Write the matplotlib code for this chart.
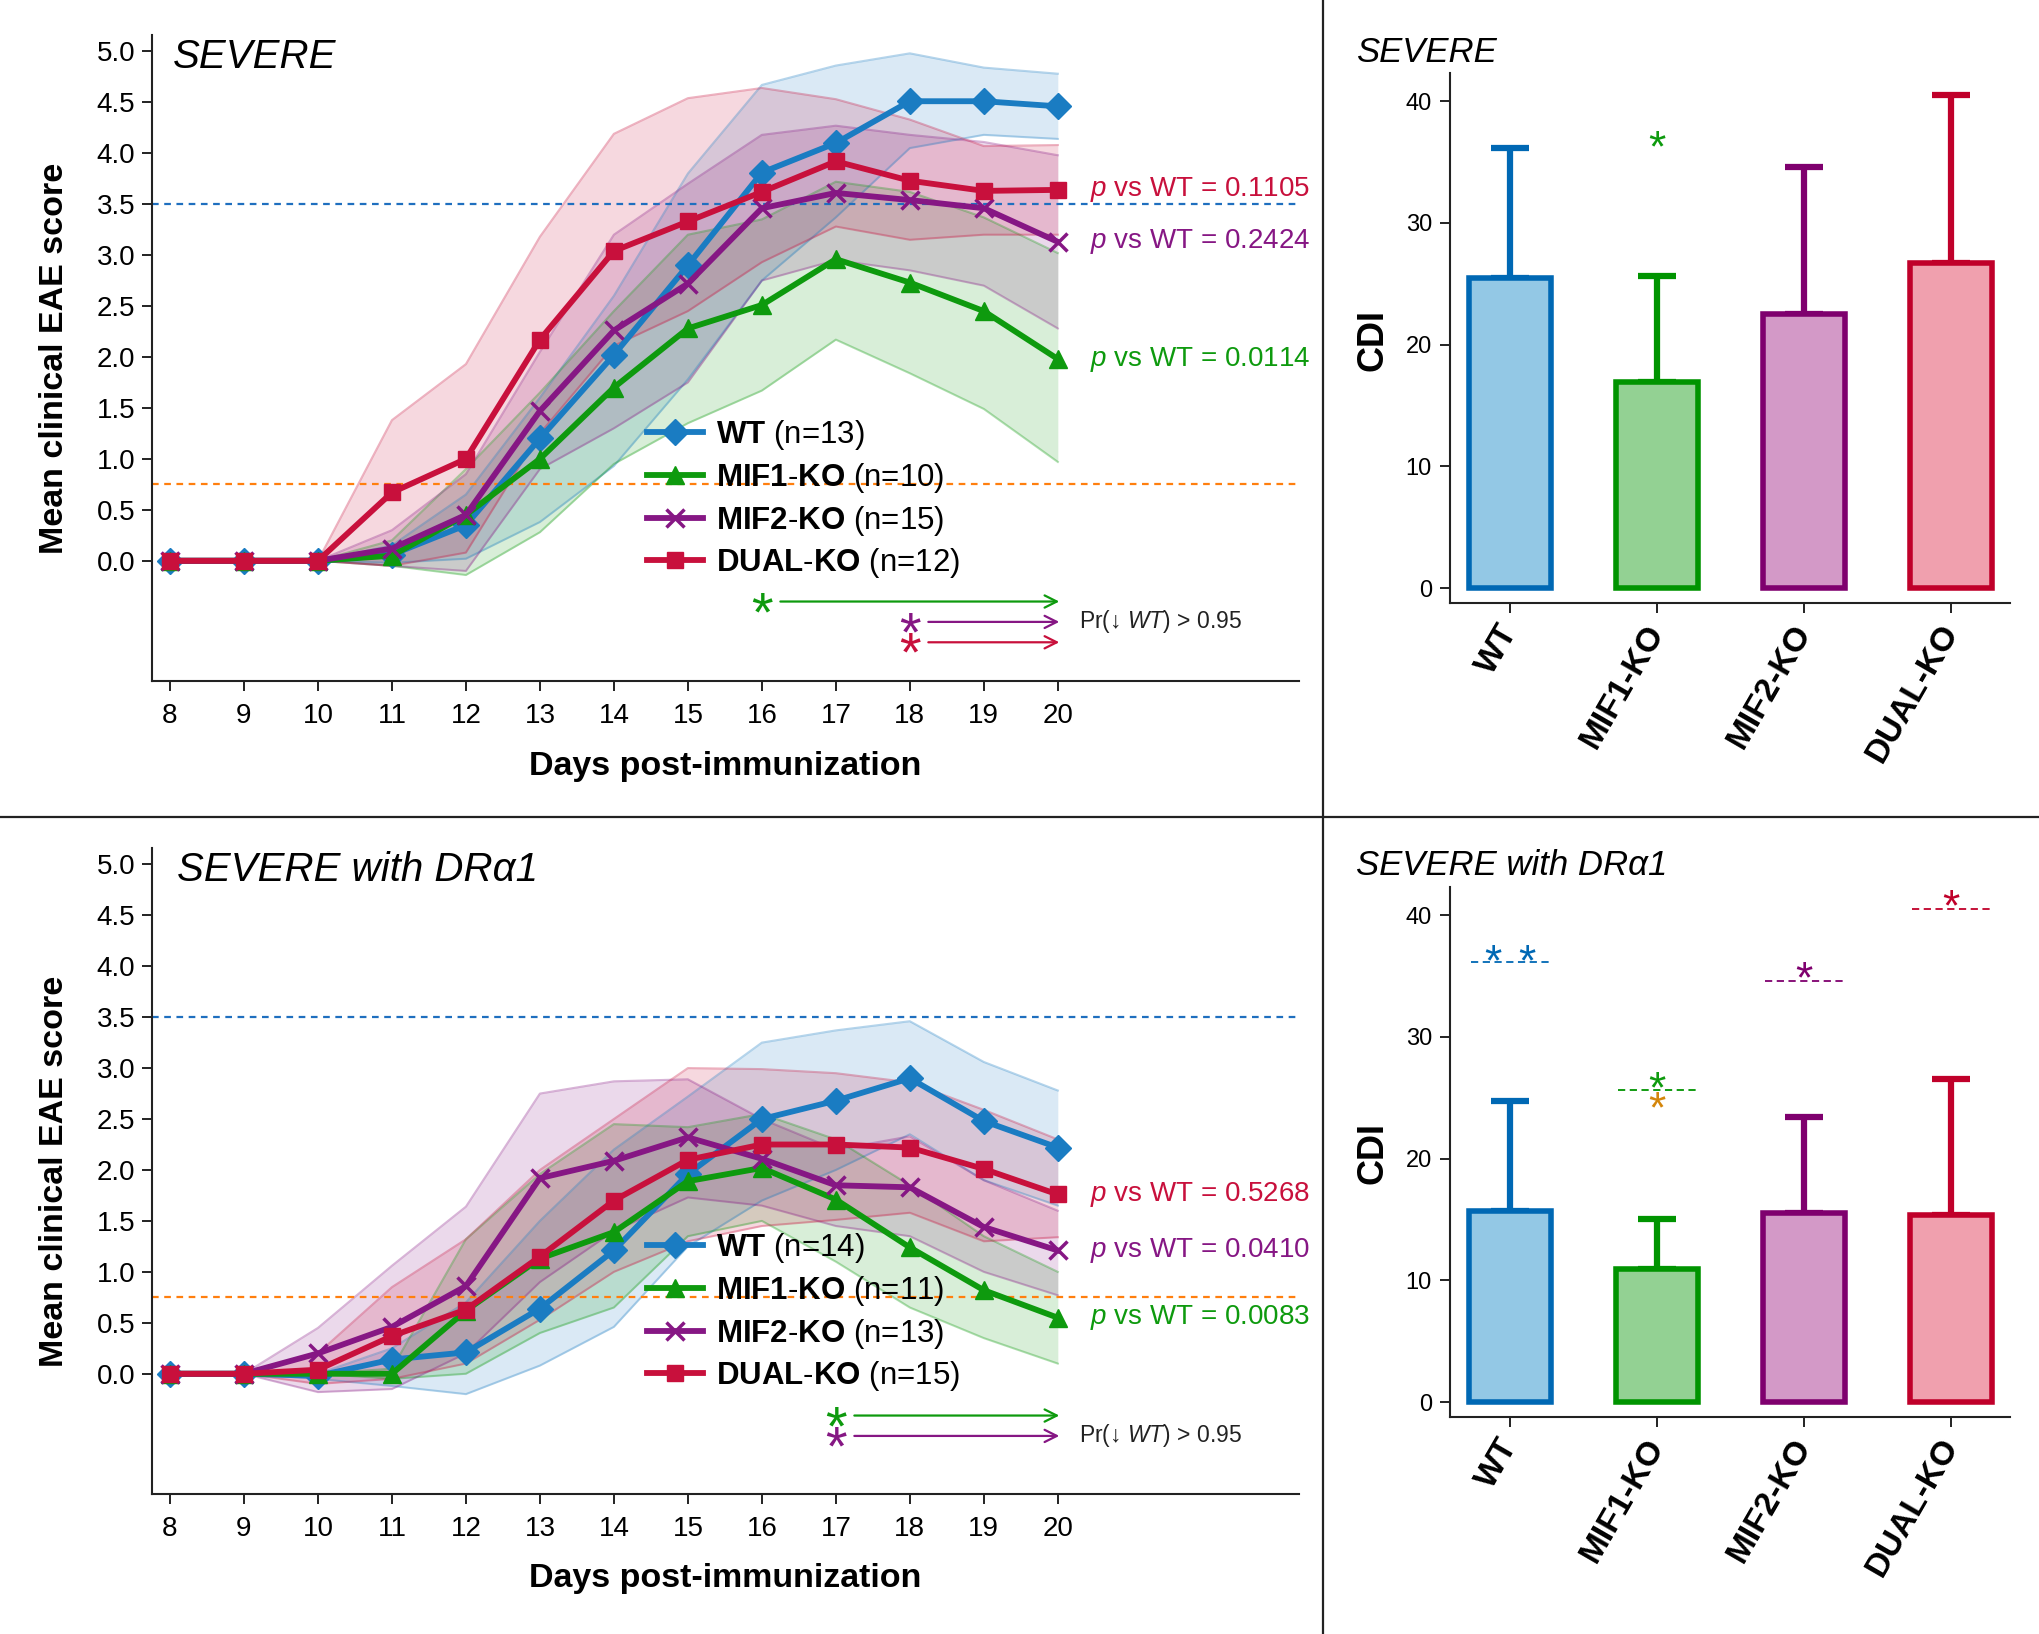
import numpy as np
import matplotlib
matplotlib.use("Agg")
import matplotlib.pyplot as plt
from matplotlib.lines import Line2D

plt.rcParams['font.family'] = ['Liberation Sans', 'DejaVu Sans']
plt.rcParams['mathtext.fontset'] = 'custom'
plt.rcParams['mathtext.rm'] = 'Liberation Sans'
plt.rcParams['mathtext.bf'] = 'Liberation Sans:bold'
plt.rcParams['mathtext.it'] = 'Liberation Sans:italic'

#
# data
#
days = [8, 9, 10, 11, 12, 13, 14, 15, 16, 17, 18, 19, 20]
groups = ["WT", "MIF1-KO", "MIF2-KO", "DUAL-KO"]

# SEVERE
sev_wt = [0, 0, 0, 0.06, 0.35, 1.20, 2.02, 2.90, 3.81, 4.10, 4.51, 4.51, 4.46]
sev_mif1 = [0, 0, 0, 0.05, 0.45, 1.00, 1.70, 2.28, 2.51, 2.96, 2.73, 2.45, 1.98]
sev_mif2 = [0, 0, 0, 0.12, 0.45, 1.47, 2.26, 2.72, 3.46, 3.61, 3.54, 3.46, 3.13]
sev_dual = [0, 0, 0, 0.67, 1.00, 2.17, 3.04, 3.33, 3.62, 3.92, 3.73, 3.63, 3.64]

sev_wt_hi = [0, 0, 0, 0.15, 0.65, 1.60, 2.60, 3.80, 4.67, 4.86, 4.98, 4.84, 4.78]
sev_wt_lo = [0, 0, 0, -0.02, 0.02, 0.38, 0.93, 1.78, 2.75, 3.37, 4.05, 4.18, 4.14]
sev_mif1_hi = [0, 0, 0, 0.20, 0.90, 1.65, 2.45, 3.20, 3.35, 3.72, 3.62, 3.37, 3.02]
sev_mif1_lo = [0, 0, 0, -0.05, -0.14, 0.28, 0.95, 1.35, 1.67, 2.17, 1.84, 1.49, 0.97]
sev_mif2_hi = [0, 0, 0, 0.30, 0.85, 2.05, 3.20, 3.70, 4.18, 4.27, 4.18, 4.11, 3.98]
sev_mif2_lo = [0, 0, 0, -0.05, -0.10, 0.90, 1.30, 1.75, 2.75, 2.95, 2.85, 2.70, 2.28]
sev_dual_hi = [0, 0, 0, 1.38, 1.93, 3.18, 4.19, 4.54, 4.64, 4.53, 4.33, 4.07, 4.08]
sev_dual_lo = [0, 0, 0, -0.05, 0.08, 1.25, 2.11, 2.45, 2.93, 3.28, 3.15, 3.20, 3.20]

sev_n = [13, 10, 15, 12]
sev_p = ["0.1105", "0.2424", "0.0114"]   # DUAL, MIF2, MIF1

# SEVERE with DRa1
dr_wt = [0, 0, -0.02, 0.14, 0.21, 0.64, 1.21, 1.96, 2.50, 2.68, 2.90, 2.48, 2.22]
dr_mif1 = [0, 0, 0, 0.00, 0.62, 1.13, 1.39, 1.89, 2.02, 1.71, 1.24, 0.82, 0.55]
dr_mif2 = [0, 0, 0.20, 0.46, 0.86, 1.92, 2.09, 2.32, 2.11, 1.85, 1.83, 1.44, 1.21]
dr_dual = [0, 0, 0.04, 0.37, 0.63, 1.15, 1.70, 2.10, 2.25, 2.25, 2.22, 2.01, 1.76]

dr_wt_hi = [0, 0, 0, 0.25, 0.70, 1.50, 2.20, 2.72, 3.25, 3.37, 3.46, 3.06, 2.78]
dr_wt_lo = [0, 0, -0.05, -0.12, -0.20, 0.08, 0.46, 1.25, 1.70, 2.00, 2.35, 1.90, 1.65]
dr_mif1_hi = [0, 0, 0, 0.05, 1.32, 1.96, 2.45, 2.42, 2.55, 2.30, 1.85, 1.35, 1.00]
dr_mif1_lo = [0, 0, 0, -0.05, 0.00, 0.40, 0.65, 1.35, 1.50, 1.10, 0.65, 0.35, 0.10]
dr_mif2_hi = [0, 0, 0.45, 1.06, 1.64, 2.75, 2.87, 2.89, 2.50, 2.20, 2.33, 1.90, 1.60]
dr_mif2_lo = [0, 0, -0.18, -0.15, 0.20, 0.90, 1.40, 1.73, 1.65, 1.45, 1.35, 1.00, 0.77]
dr_dual_hi = [0, 0, 0.20, 0.85, 1.32, 2.00, 2.50, 3.00, 2.99, 2.95, 2.86, 2.59, 2.30]
dr_dual_lo = [0, 0, -0.10, -0.05, 0.10, 0.53, 1.00, 1.30, 1.45, 1.51, 1.58, 1.30, 1.34]

dr_n = [14, 11, 13, 15]
dr_p = ["0.5268", "0.0410", "0.0083"]

# CDI bars
cdi_sev = [25.5, 16.9, 22.5, 26.7]
cdi_sev_top = [36.1, 25.6, 34.6, 40.5]
cdi_dr = [15.7, 10.9, 15.5, 15.4]
cdi_dr_top = [24.7, 15.0, 23.4, 26.5]

#
# styles
#
line_col = ["#1A7CC2", "#0E9A0E", "#861784", "#C8103C"]
marks = ["D", "^", "x", "s"]
msz = [13, 12.5, 13, 11.5]
bar_fill = ["#93C8E5", "#93D193", "#D399C7", "#F0A0AE"]
bar_edge = ["#0068B4", "#009400", "#7F006E", "#C0002A"]
ink = "#222222"

W, H = 2040, 1634
fig = plt.figure(figsize=(W / 100, H / 100), dpi=100)


def style_axes(ax, lab):
    ax.spines["top"].set_visible(False)
    ax.spines["right"].set_visible(False)
    for s in ["left", "bottom"]:
        ax.spines[s].set_color(ink)
        ax.spines[s].set_linewidth(1.5)
    ax.tick_params(direction="out", length=7, width=1.4, color=ink,
                   labelsize=lab, labelcolor="black")


def line_panel(ax, means, his, los, ns, pv, stars):
    for m, hi, lo, c in zip(means, his, los, line_col):
        ax.fill_between(days, lo, hi, color=c, alpha=0.16, lw=0)
        ax.plot(days, hi, color=c, alpha=0.32, lw=1.5)
        ax.plot(days, lo, color=c, alpha=0.32, lw=1.5)
    ax.axhline(3.5, color="#1F6FBF", lw=1.6, ls=(0, (3, 2.5)))
    ax.axhline(0.75, color="#FF7F0E", lw=1.6, ls=(0, (3, 2.5)))
    hand = []
    for i, (m, c) in enumerate(zip(means, line_col)):
        h, = ax.plot(days, m, color=c, lw=4.2, marker=marks[i], ms=msz[i],
                     mfc=c, mec=c, mew=2.5 if marks[i] == "x" else 1,
                     zorder=3 + i)
        hand.append(h)
    labels = [r"$\mathbf{WT}$ (n=%d)" % ns[0],
              r"$\mathbf{MIF1}$-$\mathbf{KO}$ (n=%d)" % ns[1],
              r"$\mathbf{MIF2}$-$\mathbf{KO}$ (n=%d)" % ns[2],
              r"$\mathbf{DUAL}$-$\mathbf{KO}$ (n=%d)" % ns[3]]
    ax.legend(hand, labels, loc="upper left", bbox_to_anchor=(0.4316, 0.407),
              frameon=False, fontsize=22.5, borderpad=0, borderaxespad=0,
              handlelength=1.8, handletextpad=0.42, labelspacing=0.28)
    # p values, placed at last values of DUAL, MIF2, MIF1
    for txt, m, c in zip(pv, [means[3], means[2], means[1]],
                         [line_col[3], line_col[2], line_col[1]]):
        ax.text(20.43, m[-1], r"$\it{p}$ vs WT = " + txt, color=c,
                fontsize=20, va="center", ha="left")
    # posterior arrows
    for (d0, yy, c) in stars:
        ax.annotate("", xy=(20.02, yy), xytext=(d0 + 0.25, yy),
                    arrowprops=dict(arrowstyle="->", color=c, lw=1.6,
                                    mutation_scale=22, shrinkA=0, shrinkB=0))
        ax.annotate("*", xy=(d0, yy), xytext=(0, -20.5),
                    textcoords="offset points", ha="center", va="baseline",
                    color=c, fontsize=40)
    ax.text(20.29, stars[1][1], r"Pr(↓ $\it{WT}$) > 0.95", fontsize=16.5,
            va="center", ha="left", color=ink)
    ax.set_xlim(7.757, 23.26)
    ax.set_ylim(-1.18, 5.16)
    ax.set_xticks(days)
    ax.set_yticks(np.arange(0, 5.01, 0.5))
    ax.set_yticklabels(["%.1f" % v for v in np.arange(0, 5.01, 0.5)])
    style_axes(ax, 20)
    ax.tick_params(axis="x", pad=9)
    ax.tick_params(axis="y", pad=5)


def bar_panel(ax, vals, tops):
    x = np.arange(len(groups))
    for i in range(len(groups)):
        ax.errorbar(x[i], vals[i], yerr=[[0], [tops[i] - vals[i]]], fmt="none",
                    ecolor=bar_edge[i], elinewidth=4.5, capsize=14,
                    capthick=4.5, zorder=1)
    ax.bar(x, vals, width=0.56, color=bar_fill, edgecolor=bar_edge,
           linewidth=4, zorder=2)
    ax.set_xlim(-0.41, 3.40)
    ax.set_ylim(-1.23, 42.3)
    ax.set_yticks([0, 10, 20, 30, 40])
    ax.set_xticks(x)
    ax.set_xticklabels(groups, rotation=60, ha="right", va="center",
                       rotation_mode="anchor", fontweight="bold", fontsize=24)
    style_axes(ax, 17)
    ax.tick_params(axis="x", labelsize=24, pad=10)
    ax.tick_params(axis="y", pad=6)
    return x


def bar_star(ax, x, y, c, size=32):
    ax.annotate("*", xy=(x, y), xytext=(0, -15.5), textcoords="offset points",
                ha="center", va="baseline", color=c, fontsize=size)


# panel boxes (pixel based)
ax1 = fig.add_axes([152 / W, 1 - 681 / H, 1147 / W, 646 / H])
ax3 = fig.add_axes([152 / W, 1 - 1494 / H, 1147 / W, 646 / H])
ax2 = fig.add_axes([1450 / W, 1 - 603 / H, 560 / W, 530 / H])
ax4 = fig.add_axes([1450 / W, 1 - 1417 / H, 560 / W, 530 / H])

line_panel(ax1, [sev_wt, sev_mif1, sev_mif2, sev_dual],
           [sev_wt_hi, sev_mif1_hi, sev_mif2_hi, sev_dual_hi],
           [sev_wt_lo, sev_mif1_lo, sev_mif2_lo, sev_dual_lo],
           sev_n, sev_p,
           [(16, -0.40, line_col[1]), (18, -0.60, line_col[2]),
            (18, -0.80, line_col[3])])
line_panel(ax3, [dr_wt, dr_mif1, dr_mif2, dr_dual],
           [dr_wt_hi, dr_mif1_hi, dr_mif2_hi, dr_dual_hi],
           [dr_wt_lo, dr_mif1_lo, dr_mif2_lo, dr_dual_lo],
           dr_n, dr_p,
           [(17, -0.41, line_col[1]), (17, -0.61, line_col[2])])

ax1.text(0.018, 0.949, "SEVERE", transform=ax1.transAxes, fontsize=29,
         style="italic", va="baseline")
ax3.text(0.022, 0.949, "SEVERE with DRα1", transform=ax3.transAxes,
         fontsize=29, style="italic", va="baseline")

xb = bar_panel(ax2, cdi_sev, cdi_sev_top)
bar_star(ax2, xb[1], 36.8, line_col[1])

bar_panel(ax4, cdi_dr, cdi_dr_top)
# reference lines from SEVERE error bar tops
for i in range(4):
    ax4.hlines(cdi_sev_top[i], xb[i] - 0.27, xb[i] + 0.27, color=bar_edge[i],
               lw=1.3, linestyles=(0, (4, 2.5)))
bar_star(ax4, xb[0] - 0.115, 36.8, bar_edge[0])
bar_star(ax4, xb[0] + 0.115, 36.8, bar_edge[0])
bar_star(ax4, xb[1], 26.4, "#0E9A0E")
bar_star(ax4, xb[1], 24.7, "#D4860B")
bar_star(ax4, xb[2], 35.4, bar_edge[2])
bar_star(ax4, xb[3], 41.3, bar_edge[3])

fig.text(1356 / W, 1 - 62 / H, "SEVERE", fontsize=25, style="italic",
         va="baseline")
fig.text(1356 / W, 1 - 875 / H, "SEVERE with DRα1", fontsize=25,
         style="italic", va="baseline")

# axis titles
for off in [0, 813]:
    fig.text(55 / W, 1 - (358 + off) / H, "Mean clinical EAE score",
             rotation=90, fontsize=24.5, fontweight="bold", ha="center",
             va="center")
    fig.text(725 / W, 1 - (766 + off) / H, "Days post-immunization",
             fontsize=24.5, fontweight="bold", ha="center", va="center")
    fig.text(1373 / W, 1 - (340 + off) / H, "CDI", rotation=90, fontsize=26,
             fontweight="bold", ha="center", va="center")

# divider lines
fig.add_artist(Line2D([1323 / W, 1323 / W], [0, 1], color=ink, lw=1.6))
fig.add_artist(Line2D([0, 1], [1 - 817 / H, 1 - 817 / H], color=ink, lw=1.6))

fig.savefig("out.png", dpi=100)
